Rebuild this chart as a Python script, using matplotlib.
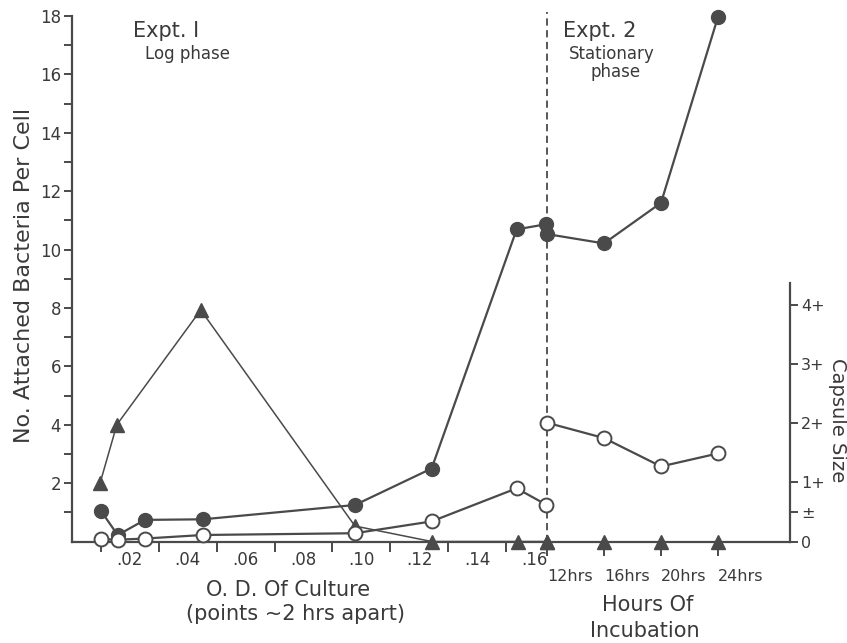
import numpy as np
import matplotlib.pyplot as plt

plt.rcParams['font.family'] = ['DejaVu Sans']

# Expt 1 : O.D. of culture (log phase)
od_circ = [0.010, 0.0158, 0.0252, 0.0452, 0.0978, 0.1243, 0.1537, 0.1640]
attached_e1 = [1.05, 0.22, 0.74, 0.76, 1.25, 2.5, 10.69, 10.87]
capsule_e1 = [0.04, 0.03, 0.05, 0.11, 0.14, 0.34, 0.90, 0.62]
od_tri = [0.0097, 0.0155, 0.0445, 0.0978, 0.1243, 0.1543, 0.1643]
tri_e1 = [2.0, 4.0, 7.93, 0.53, 0.0, 0.0, 0.0]

# Expt 2 : hours of incubation (stationary phase)
hours = [12, 16, 20, 24]
attached_e2 = [10.53, 10.21, 11.6, 17.97]
capsule_e2 = [2.01, 1.75, 1.27, 1.49]
tri_e2 = [0, 0, 0, 0]

od_ticks = [0.02, 0.04, 0.06, 0.08, 0.10, 0.12, 0.14, 0.16]
od_labels = ['.02', '.04', '.06', '.08', '.10', '.12', '.14', '.16']
cap_ticks = [0, 0.5, 1, 2, 3, 4]
cap_labels = ['0', '±', '1+', '2+', '3+', '4+']

# hours are drawn on the same x axis, right after the O.D. scale
x12 = 0.1642
dx = 0.004925
def hrs_to_x(h):
    return x12 + (np.asarray(h) - 12) * dx
def x_to_hrs(x):
    return 12 + (np.asarray(x) - x12) / dx

ink = '#4a4a4a'
txt = '#3a3a3a'

fig = plt.figure(figsize=(8.47, 6.43), dpi=100)
ax = fig.add_axes([72/847, 101.5/643, 718/847, 525.5/643])
ax.set_xlim(0, 718/2893)
ax.set_ylim(0, 18)
ax2 = ax.twinx()
ax2.set_ylim(0, 525.5/59.1)

for s in ['top', 'right']:
    ax.spines[s].set_visible(False)
for s in ['top', 'left', 'bottom']:
    ax2.spines[s].set_visible(False)
ax.spines['left'].set_color(ink)
ax.spines['bottom'].set_color(ink)
ax.spines['left'].set_linewidth(1.6)
ax.spines['bottom'].set_linewidth(1.6)
ax2.spines['right'].set_color(ink)
ax2.spines['right'].set_linewidth(1.6)
ax2.spines['right'].set_bounds(0, 4.37)

# left axis
ax.set_yticks(range(2, 19, 2))
ax.set_yticks(range(1, 18, 2), minor=True)
ax.tick_params(axis='y', which='both', length=6, width=1.4, color=ink,
               labelsize=12, labelcolor=txt, pad=2)

# O.D. axis: labels at even values, tick marks at odd ones
ax.set_xticks(od_ticks, labels=od_labels)
ax.set_xticks(np.arange(0.01, 0.16, 0.02), minor=True)
ax.tick_params(axis='x', which='major', length=0, pad=7, labelsize=12, labelcolor=txt)
ax.tick_params(axis='x', which='minor', length=7, width=1.4, color=ink)

# hours axis
sec = ax.secondary_xaxis('bottom', functions=(x_to_hrs, hrs_to_x))
sec.set_xticks(hours, labels=[f'{h}hrs' for h in hours])
sec.spines['bottom'].set_visible(False)
sec.tick_params(length=10, width=1.4, color=ink, pad=10, labelsize=11.5, labelcolor=txt)
for t in sec.get_xticklabels():
    t.set_horizontalalignment('left')

# capsule size axis
ax2.set_yticks(cap_ticks, labels=cap_labels)
ax2.tick_params(axis='y', length=6, width=1.4, color=ink, labelsize=11.5,
                labelcolor=txt, pad=2)

# divider between the two experiments
ax.axvline(hrs_to_x(12), ymax=18.15/18, color=ink, lw=1.3, ls=(0, (4, 2.5)), clip_on=False)

# triangles
ax.plot(od_tri, tri_e1, color=ink, lw=1.1, marker='^', ms=10, mfc=ink, mec=ink, clip_on=False, zorder=4)
ax.plot(hrs_to_x(hours), tri_e2, ls='none', marker='^', ms=10, mfc=ink, mec=ink, clip_on=False, zorder=4)

# attached bacteria
ax.plot(od_circ, attached_e1, color=ink, lw=1.6, marker='o', ms=10, mfc=ink, mec=ink, clip_on=False, zorder=5)
ax.plot(hrs_to_x(hours), attached_e2, color=ink, lw=1.6, marker='o', ms=10, mfc=ink, mec=ink, clip_on=False, zorder=5)

# capsule size
ax2.plot(od_circ, capsule_e1, color=ink, lw=1.6, marker='o', ms=10, mfc='white', mec=ink, mew=1.4, clip_on=False, zorder=5)
ax2.plot(hrs_to_x(hours), capsule_e2, color=ink, lw=1.6, marker='o', ms=10, mfc='white', mec=ink, mew=1.4, clip_on=False, zorder=5)

ax.text(0.0211, 17.5, 'Expt. I', fontsize=15, color=txt, ha='left', va='center')
ax.text(0.0252, 16.7, 'Log phase', fontsize=12, color=txt, ha='left', va='center')
ax.text(0.1697, 17.5, 'Expt. 2', fontsize=15, color=txt, ha='left', va='center')
ax.text(0.1867, 16.7, 'Stationary', fontsize=12, color=txt, ha='center', va='center')
ax.text(0.1880, 16.08, 'phase', fontsize=12, color=txt, ha='center', va='center')

fig.text(24/847, 1 - 275/643, 'No. Attached Bacteria Per Cell', rotation=90,
         fontsize=16, color=txt, ha='center', va='center')
fig.text(837/847, 1 - 420/643, 'Capsule Size', rotation=-90,
         fontsize=14, color=txt, ha='center', va='center')
fig.text(288/847, 1 - 590/643, 'O. D. Of Culture', fontsize=15, color=txt, ha='center', va='center')
fig.text(295/847, 1 - 614/643, '(points ~2 hrs apart)', fontsize=15, color=txt, ha='center', va='center')
fig.text(648/847, 1 - 605/643, 'Hours Of', fontsize=15, color=txt, ha='center', va='center')
fig.text(645/847, 1 - 631/643, 'Incubation', fontsize=15, color=txt, ha='center', va='center')

fig.savefig('out.png', dpi=100)
